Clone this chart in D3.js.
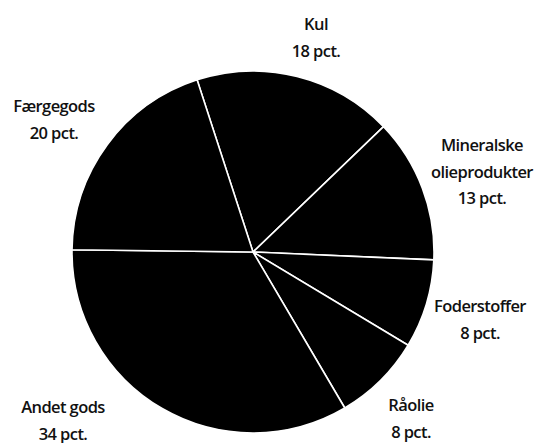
<!DOCTYPE html>
<html lang="da">
  <head>
    <meta charset="UTF-8" />
    <title>Godsomsætning</title>
    <script src="https://cdn.jsdelivr.net/npm/d3@7"></script>
    <style>
      body { margin: 0; background: #fff; }
      svg { display: block; }
      .lbl { font-family: "Open Sans", sans-serif; font-weight: 600; font-size: 16.5px; letter-spacing: -0.6px; fill: #111; }
    </style>
  </head>
  <body>
    <svg width="536" height="443"></svg>
    <script>
      const categories = ["Kul", "Mineralske olieprodukter", "Foderstoffer", "Råolie", "Andet gods", "Færgegods"];
      const values = [18, 13, 8, 8, 34, 20];
      // label lines and where each label block sits (centre x, first baseline)
      const labelLines = [["Kul", "18 pct."], ["Mineralske", "olieprodukter", "13 pct."], ["Foderstoffer", "8 pct."],
        ["Råolie", "8 pct."], ["Andet gods", "34 pct."], ["Færgegods", "20 pct."]];
      const labelPos = [[316, 30], [482, 151], [480, 312], [411, 411], [63, 413], [54, 112]];

      const svg = d3.select("svg");
      const cx = 253, cy = 252, r = 181;
      const deg = Math.PI / 180;

      const pie = d3.pie().sort(null).startAngle(-18 * deg).endAngle(342 * deg);
      const arc = d3.arc().innerRadius(0).outerRadius(r);

      const g = svg.append("g").attr("transform", `translate(${cx},${cy})`);
      g.selectAll("path")
        .data(pie(values))
        .join("path")
        .attr("d", arc)
        .attr("fill", "#000")
        .attr("stroke", "#fff")
        .attr("stroke-width", 1.6)
        .attr("stroke-linejoin", "round");

      const lineH = 26.5;
      categories.forEach((c, i) => {
        const t = svg.append("text").attr("class", "lbl").attr("text-anchor", "middle");
        labelLines[i].forEach((s, j) => {
          t.append("tspan").attr("x", labelPos[i][0]).attr("y", labelPos[i][1] + j * lineH).text(s);
        });
      });
    </script>
  </body>
</html>
